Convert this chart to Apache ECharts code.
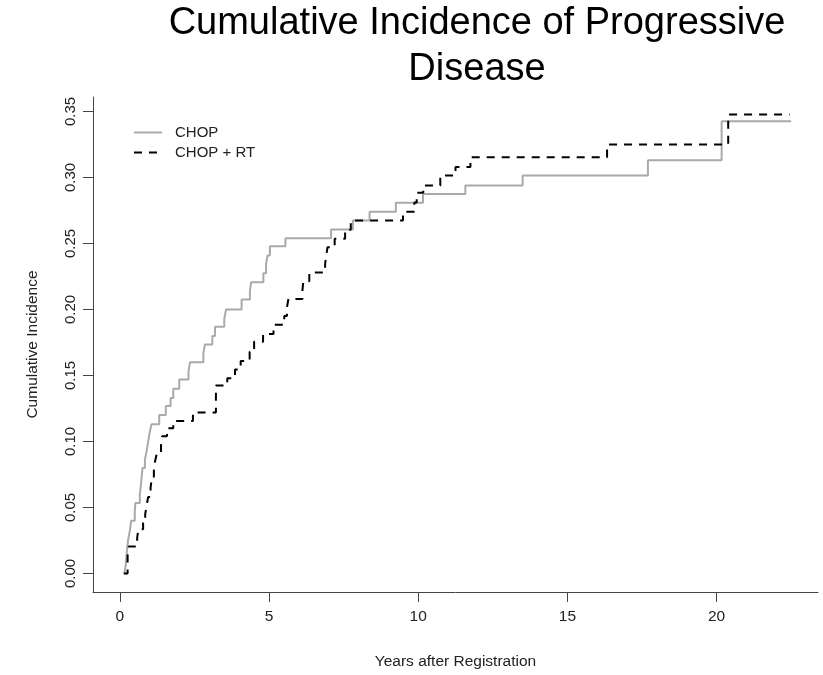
<!DOCTYPE html>
<html>
<head>
<meta charset="utf-8">
<script src="https://cdn.jsdelivr.net/npm/echarts@6/dist/echarts.min.js"></script>
<style>html,body{margin:0;padding:0;background:#fff}#c{width:823px;height:675px}</style>
</head>
<body>
<div id="c"></div>
<script>
const seriesNames = ['CHOP', 'CHOP + RT'];
const chopYears = [0.15,0.2,0.22,0.25,0.28,0.34,0.38,0.5,0.52,0.67,0.7,0.73,0.76,0.84,0.9,0.95,1.0,1.06,1.32,1.54,1.7,1.79,1.99,2.3,2.35,2.8,2.85,3.1,3.19,3.5,3.56,4.08,4.36,4.4,4.81,4.9,4.95,5.03,5.55,7.08,7.81,8.37,9.25,10.16,11.58,13.5,17.7,20.17,22.5];
const chopCI = [0,0.0067,0.013,0.02,0.026,0.033,0.04,0.047,0.0535,0.06,0.066,0.073,0.08,0.0865,0.093,0.1,0.107,0.113,0.12,0.127,0.133,0.14,0.147,0.153,0.16,0.167,0.1735,0.18,0.187,0.193,0.2,0.2075,0.214,0.2207,0.2275,0.2345,0.241,0.248,0.254,0.2606,0.2674,0.274,0.2808,0.2876,0.294,0.3015,0.313,0.3427,0.3427];
const rtYears = [0.13,0.26,0.3,0.58,0.62,0.78,0.85,0.9,0.95,1.03,1.07,1.14,1.18,1.24,1.38,1.42,1.58,1.79,2.45,3.22,3.6,3.86,4.05,4.35,4.5,4.8,5.15,5.51,5.6,5.65,6.12,6.15,6.35,6.88,6.92,6.96,7.2,7.55,7.74,9.49,9.87,9.95,10.17,10.74,11.25,11.75,16.33,20.39,22.45];
const rtCI = [0,0.0137,0.0205,0.027,0.0335,0.0385,0.045,0.052,0.058,0.065,0.072,0.078,0.085,0.091,0.098,0.104,0.11,0.1155,0.122,0.1425,0.148,0.1545,0.161,0.168,0.1755,0.1815,0.1885,0.195,0.2015,0.208,0.2145,0.2215,0.228,0.2345,0.241,0.2472,0.2536,0.2605,0.2674,0.274,0.281,0.2884,0.294,0.3015,0.308,0.3154,0.325,0.3477,0.3477];
const xTicks = [0, 5, 10, 15, 20];
const yTicks = [0, 0.05, 0.10, 0.15, 0.20, 0.25, 0.30, 0.35];

const font = 'Liberation Sans, Arial, sans-serif';
const chart = echarts.init(document.getElementById('c'), null, {renderer: 'canvas'});
const zip = (xs, ys) => xs.map((x, i) => [x, ys[i]]);

chart.setOption({
  animation: false,
  backgroundColor: '#fff',
  title: {
    text: 'Cumulative Incidence of Progressive\nDisease',
    left: 477, top: 1, padding: 0, textAlign: 'center',
    textStyle: {fontFamily: font, fontSize: 38, fontWeight: 'normal', color: '#000', lineHeight: 46}
  },
  legend: {
    orient: 'vertical', left: 133, top: 125, padding: 0, itemWidth: 28, itemHeight: 14, itemGap: 5,
    data: seriesNames,
    itemStyle: {opacity: 0, color: 'transparent', borderColor: 'transparent', borderWidth: 0},
    textStyle: {fontFamily: font, fontSize: 15, color: '#222', padding: [0, 0, 0, 8]}
  },
  grid: {left: 93, right: 5, top: 97, bottom: 83, containLabel: false},
  xAxis: {
    type: 'value', min: -0.9, max: 23.4,
    name: 'Years after Registration', nameLocation: 'middle', nameGap: 62,
    nameTextStyle: {fontFamily: font, fontSize: 15.5, color: '#222'},
    axisLine: {show: true, onZero: false, lineStyle: {color: '#444', width: 1}},
    axisTick: {show: true, length: 10, lineStyle: {color: '#444'}, customValues: xTicks},
    axisLabel: {fontFamily: font, fontSize: 15.5, color: '#222', margin: 17, customValues: xTicks, formatter: v => String(v)},
    splitLine: {show: false}
  },
  yAxis: {
    type: 'value', min: -0.014, max: 0.361,
    name: 'Cumulative Incidence', nameLocation: 'middle', nameGap: 52, nameRotate: 90,
    nameTextStyle: {fontFamily: font, fontSize: 15.5, color: '#222'},
    axisLine: {show: true, onZero: false, lineStyle: {color: '#444', width: 1}},
    axisTick: {show: true, length: 10, lineStyle: {color: '#444'}, customValues: yTicks},
    axisLabel: {fontFamily: font, fontSize: 15, color: '#222', margin: 15, rotate: 90, customValues: yTicks, formatter: v => v.toFixed(2)},
    splitLine: {show: false}
  },
  series: [
    {
      name: seriesNames[0], type: 'line', step: 'end', showSymbol: false, symbol: 'none',
      data: zip(chopYears, chopCI),
      itemStyle: {color: '#aaaaaa'},
      lineStyle: {color: '#aaaaaa', width: 2}
    },
    {
      name: seriesNames[1], type: 'line', step: 'end', showSymbol: false, symbol: 'none',
      data: zip(rtYears, rtCI),
      itemStyle: {color: '#000'},
      lineStyle: {color: '#000', width: 2, type: [8, 7]}
    }
  ]
});
</script>
</body>
</html>
